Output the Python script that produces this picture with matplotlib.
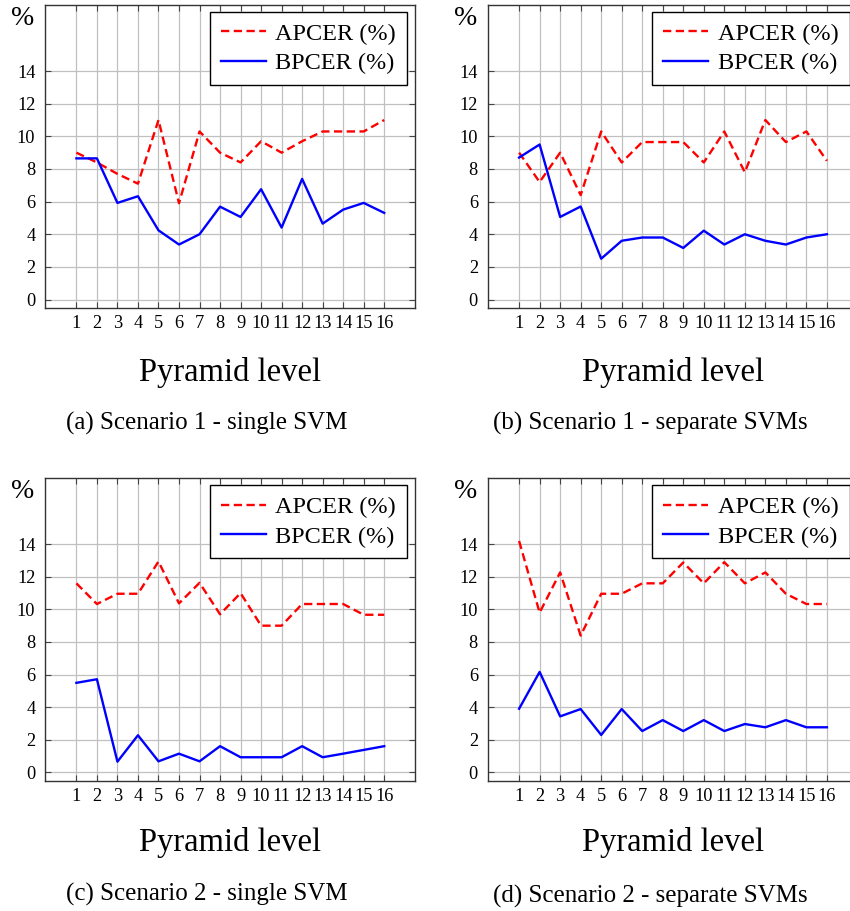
import matplotlib
matplotlib.use("Agg")
import matplotlib.pyplot as plt

levels = list(range(1, 17))
xtick_labels = [str(i) for i in levels]
yticks = [0, 2, 4, 6, 8, 10, 12, 14]

apcer_a = [9.0, 8.4, 7.7, 7.1, 11.0, 5.9, 10.3, 9.0, 8.4, 9.7, 9.0, 9.7, 10.3, 10.3, 10.3, 11.0]
bpcer_a = [8.65, 8.65, 5.92, 6.33, 4.24, 3.37, 4.0, 5.69, 5.06, 6.76, 4.41, 7.39, 4.65, 5.51, 5.92, 5.31]

apcer_b = [9.0, 7.2, 9.0, 6.4, 10.3, 8.4, 9.65, 9.65, 9.65, 8.4, 10.3, 7.8, 11.0, 9.65, 10.3, 8.5]
bpcer_b = [8.7, 9.5, 5.06, 5.7, 2.5, 3.6, 3.8, 3.8, 3.16, 4.22, 3.37, 4.0, 3.6, 3.37, 3.8, 4.0]

apcer_c = [11.6, 10.33, 10.96, 10.96, 12.94, 10.37, 11.63, 9.7, 11.0, 9.0, 9.0, 10.33, 10.33, 10.33, 9.67, 9.67]
bpcer_c = [5.49, 5.71, 0.65, 2.27, 0.67, 1.14, 0.67, 1.6, 0.92, 0.92, 0.92, 1.6, 0.92, 1.14, 1.37, 1.6]

apcer_d = [14.2, 9.8, 12.27, 8.39, 10.96, 10.96, 11.6, 11.6, 12.88, 11.6, 12.9, 11.6, 12.27, 10.96, 10.33, 10.33]
bpcer_d = [3.9, 6.16, 3.43, 3.88, 2.29, 3.88, 2.53, 3.2, 2.53, 3.2, 2.53, 2.96, 2.76, 3.2, 2.76, 2.76]

series_labels = ["APCER (%)", "BPCER (%)"]
xlabel = "Pyramid level"
ylabel = "%"
captions = ["(a) Scenario 1 - single SVM", "(b) Scenario 1 - separate SVMs",
            "(c) Scenario 2 - single SVM", "(d) Scenario 2 - separate SVMs"]

plt.rcParams['font.family'] = ['Liberation Serif', 'DejaVu Serif']

W, H = 850, 911
fig = plt.figure(figsize=(W / 100, H / 100), dpi=100)

# axes boxes in pixels: left, top, right, bottom
boxes = [(45, 5, 415, 308), (487.7, 5, 857.7, 308),
         (45, 478.3, 415, 780.7), (487.7, 478.3, 857.7, 780.7)]
data = [(apcer_a, bpcer_a), (apcer_b, bpcer_b), (apcer_c, bpcer_c), (apcer_d, bpcer_d)]
caption_x = [207, 650, 207, 650]
caption_y = [423, 423, 894, 896]
xlabel_y = [372, 372, 842, 842]

for i, ((l, t, r, b), (ap, bp)) in enumerate(zip(boxes, data)):
    ax_w = r - l
    ax_h = b - t
    ax = fig.add_axes([l / W, 1 - b / H, ax_w / W, ax_h / H])
    ax.plot(levels, ap, color='#ff0000', lw=1.7, linestyle=(0, (3.5, 1.9)), label=series_labels[0], zorder=3)
    ax.plot(levels, bp, color='#0000ff', lw=1.7, linestyle='-', label=series_labels[1], zorder=3)
    ax.set_xlim(-0.53, 17.5)
    ax.set_ylim(-0.52, 18.05)
    ax.set_xticks(levels)
    ax.set_xticklabels(xtick_labels)
    ax.set_yticks(yticks)
    ax.grid(True, color='#c0c0c0', lw=0.9, zorder=0)
    ax.set_axisbelow(True)
    ax.tick_params(axis='both', direction='in', length=4.5, width=0.8, color='#444444',
                   top=True, right=True, labelsize=13.2)
    ax.tick_params(axis='x', pad=5)
    ax.tick_params(axis='y', pad=7)
    for s in ax.spines.values():
        s.set_color('#333333')
        s.set_linewidth(1.0)
    leg = ax.legend(loc='upper right', bbox_to_anchor=(362 / ax_w, 1 - 7 / ax_h), fontsize=17.5,
                    frameon=True, fancybox=False, handlelength=1.85, handletextpad=0.4,
                    borderpad=0.45, labelspacing=0.3, borderaxespad=0)
    leg.get_frame().set_edgecolor('black')
    leg.get_frame().set_linewidth(1.0)
    leg.get_frame().set_alpha(1)
    ax.text(-22 / ax_w, 1 - 13 / ax_h, ylabel,
            transform=ax.transAxes, ha='center', va='center', fontsize=20)
    fig.text(((l + r) / 2 if i % 2 == 0 else 672.7) / W, 1 - xlabel_y[i] / H, xlabel,
             ha='center', va='center', fontsize=23.5)
    fig.text(caption_x[i] / W, 1 - caption_y[i] / H, captions[i],
             ha='center', va='center', fontsize=18)

fig.savefig('out.png', dpi=100)
